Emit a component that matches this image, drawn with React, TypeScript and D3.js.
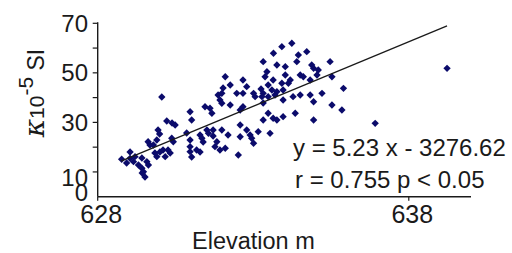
import React from "react";
import * as d3 from "d3";

// Elevation (m) and magnetic susceptibility (κ 10^-5 SI)
const elevation = [
  628.77, 628.93, 629.04, 629.04, 629.15, 629.2, 629.31, 629.42, 629.47, 629.43,
  629.52, 629.58, 629.63, 629.42, 629.62, 629.68, 629.84, 629.9, 630.0, 630.1,
  630.17, 630.26, 630.33, 629.94, 629.99, 629.9, 629.79, 630.38, 630.43, 630.22,
  630.39, 630.49, 630.06, 630.86, 630.97, 630.97, 630.97, 631.02, 630.97, 631.02,
  631.29, 631.35, 631.39, 631.18, 631.29, 631.51, 631.56, 631.45, 631.61, 631.67,
  631.77, 631.83, 631.93, 631.99, 632.19, 631.87, 631.93, 631.99, 632.03, 632.1,
  632.26, 631.99, 632.47, 632.67, 632.79, 632.67, 633.01, 633.06, 633.32, 633.76,
  634.03, 633.38, 633.64, 633.48, 633.6, 633.32, 633.28, 633.48, 633.76, 633.96,
  633.92, 632.67, 632.58, 632.26, 631.71, 632.58, 632.79, 632.9, 633.16, 633.54,
  633.48, 633.64, 633.32, 633.76, 633.96, 632.58, 632.95, 633.01, 632.1, 632.52,
  634.24, 633.92, 633.65, 634.45, 634.72, 634.4, 635.47, 634.88, 634.94, 633.44,
  634.03, 634.51, 634.61, 635.05, 635.09, 634.19, 634.13, 634.83, 635.53, 633.25,
  633.7, 633.32, 633.96, 634.28, 634.51, 634.83, 635.21, 634.94, 635.53, 635.9,
  635.85, 634.94, 636.92, 639.23, 634.35, 631.71,
];
const kappa = [
  15.1, 13.6, 18.05, 15.5, 14.13, 16.15, 12.8, 11.47, 10.09, 9.57,
  7.95, 14.13, 12.8, 15.62, 22.2, 20.87, 17.64, 16.15, 18.05, 18.85,
  16.15, 18.85, 17.64, 26.93, 25.31, 22.89, 20.87, 23.58, 22.2, 30.56,
  29.75, 28.95, 40.25, 25.72, 22.89, 20.19, 18.17, 16.03, 34.31, 30.96,
  24.91, 23.58, 22.08, 18.85, 18.05, 26.93, 25.59, 36.33, 35.69, 33.67,
  20.19, 22.2, 18.85, 26.93, 24.91, 41.06, 39.04, 37.71, 43.88, 48.44,
  45.09, 41.74, 41.74, 47.11, 44.41, 41.74, 41.74, 40.37, 54.5, 53.17,
  52.48, 48.44, 47.11, 45.09, 43.07, 41.74, 40.37, 40.37, 42.39, 43.07,
  45.78, 36.33, 35.0, 37.02, 26.93, 28.95, 26.93, 24.91, 26.24, 25.59,
  33.67, 31.65, 30.96, 30.96, 32.3, 24.22, 23.58, 21.56, 19.54, 16.83,
  61.93, 60.56, 57.89, 57.2, 58.54, 54.5, 54.5, 53.17, 51.83, 50.46,
  49.13, 49.13, 48.44, 49.13, 51.15, 47.11, 45.78, 47.11, 48.44, 43.48,
  41.06, 37.83, 39.04, 40.37, 41.06, 41.06, 41.74, 38.35, 37.02, 43.76,
  35.0, 30.96, 29.63, 51.83, 33.67, 24.5,
];

// Trend line end points as drawn
const trendX = [628.75, 639.23];
const trendY = [14.4, 69.0];

const xDomain = [628, 640];
const yDomain = [0, 70];
const xTickValues = [628, 638];
const yTickValues = [10, 20, 30, 40, 50, 60, 70];
const yLabelValues = [0, 10, 30, 50, 70];
const equationLines = ["y = 5.23 x - 3276.62", "r = 0.755 p < 0.05"];
const xTitle = "Elevation m";

const FONT = "'Liberation Sans', Arial, Helvetica, sans-serif";
const INK = "#1a1a1a";
const DOT = "#0b0b6b";

export default function App() {
  const W = 512;
  const H = 253;
  const x = d3.scaleLinear().domain(xDomain).range([97.7, 471]);
  const y = d3.scaleLinear().domain(yDomain).range([196.7, 23.3]);
  const diamond = d3.symbol().type(d3.symbolSquare).size(27)()!;
  const line = d3
    .line<number>()
    .x((d) => x(trendX[d]))
    .y((d) => y(trendY[d]));

  const yLabelShift: Record<number, number> = { 0: -4.5, 10: 5.5 };

  return (
    <svg
      width={W}
      height={H}
      style={{ position: "absolute", left: 0, top: 0, background: "#fff" }}
      fontFamily={FONT}
    >
      <rect width={W} height={H} fill="#fff" />
      {/* points */}
      {elevation.map((e, i) => (
        <path
          key={i}
          d={diamond}
          transform={`translate(${x(e)},${y(kappa[i])}) rotate(45)`}
          fill={DOT}
        />
      ))}
      {/* trend line */}
      <path d={line([0, 1])!} stroke={INK} strokeWidth={1.3} fill="none" />
      {/* axes */}
      <line x1={x(628)} x2={x(628)} y1={y(0)} y2={y(70) - 1} stroke={INK} strokeWidth={1.4} />
      <line x1={x(628)} x2={x(640)} y1={y(0)} y2={y(0)} stroke={INK} strokeWidth={1.4} />
      {yTickValues.map((v) => (
        <line key={v} x1={x(628) - 5} x2={x(628)} y1={y(v)} y2={y(v)} stroke={INK} strokeWidth={1.2} />
      ))}
      {xTickValues.map((v) => (
        <line key={v} x1={x(v)} x2={x(v)} y1={y(0)} y2={y(0) + 4} stroke={INK} strokeWidth={1.2} />
      ))}
      {yLabelValues.map((v) => (
        <text
          key={v}
          x={88}
          y={y(v) + (yLabelShift[v] || 0) + 8.6}
          textAnchor="end"
          fontSize={24}
          fill={INK}
        >
          {v}
        </text>
      ))}
      {xTickValues.map((v) => (
        <text key={v} x={x(v) + 3.5} y={223} textAnchor="middle" fontSize={25} fill={INK}>
          {v}
        </text>
      ))}
      <text x={192} y={249} fontSize={23.5} fill={INK}>
        {xTitle}
      </text>
      {equationLines.map((s, i) => (
        <text key={i} x={293 + i * 2} y={156 + i * 32} fontSize={24} fill={INK}>
          {s}
        </text>
      ))}
      {/* y-axis title */}
      <text transform="translate(44,93) rotate(-90)" textAnchor="middle" fill={INK}>
        <tspan fontSize={28} fontStyle="italic" fontFamily="'DejaVu Serif', serif">κ</tspan>
        <tspan fontSize={21}>10</tspan>
        <tspan fontSize={21} dy={-11}>-5</tspan>
        <tspan fontSize={23} dy={11}> SI</tspan>
      </text>
    </svg>
  );
}
